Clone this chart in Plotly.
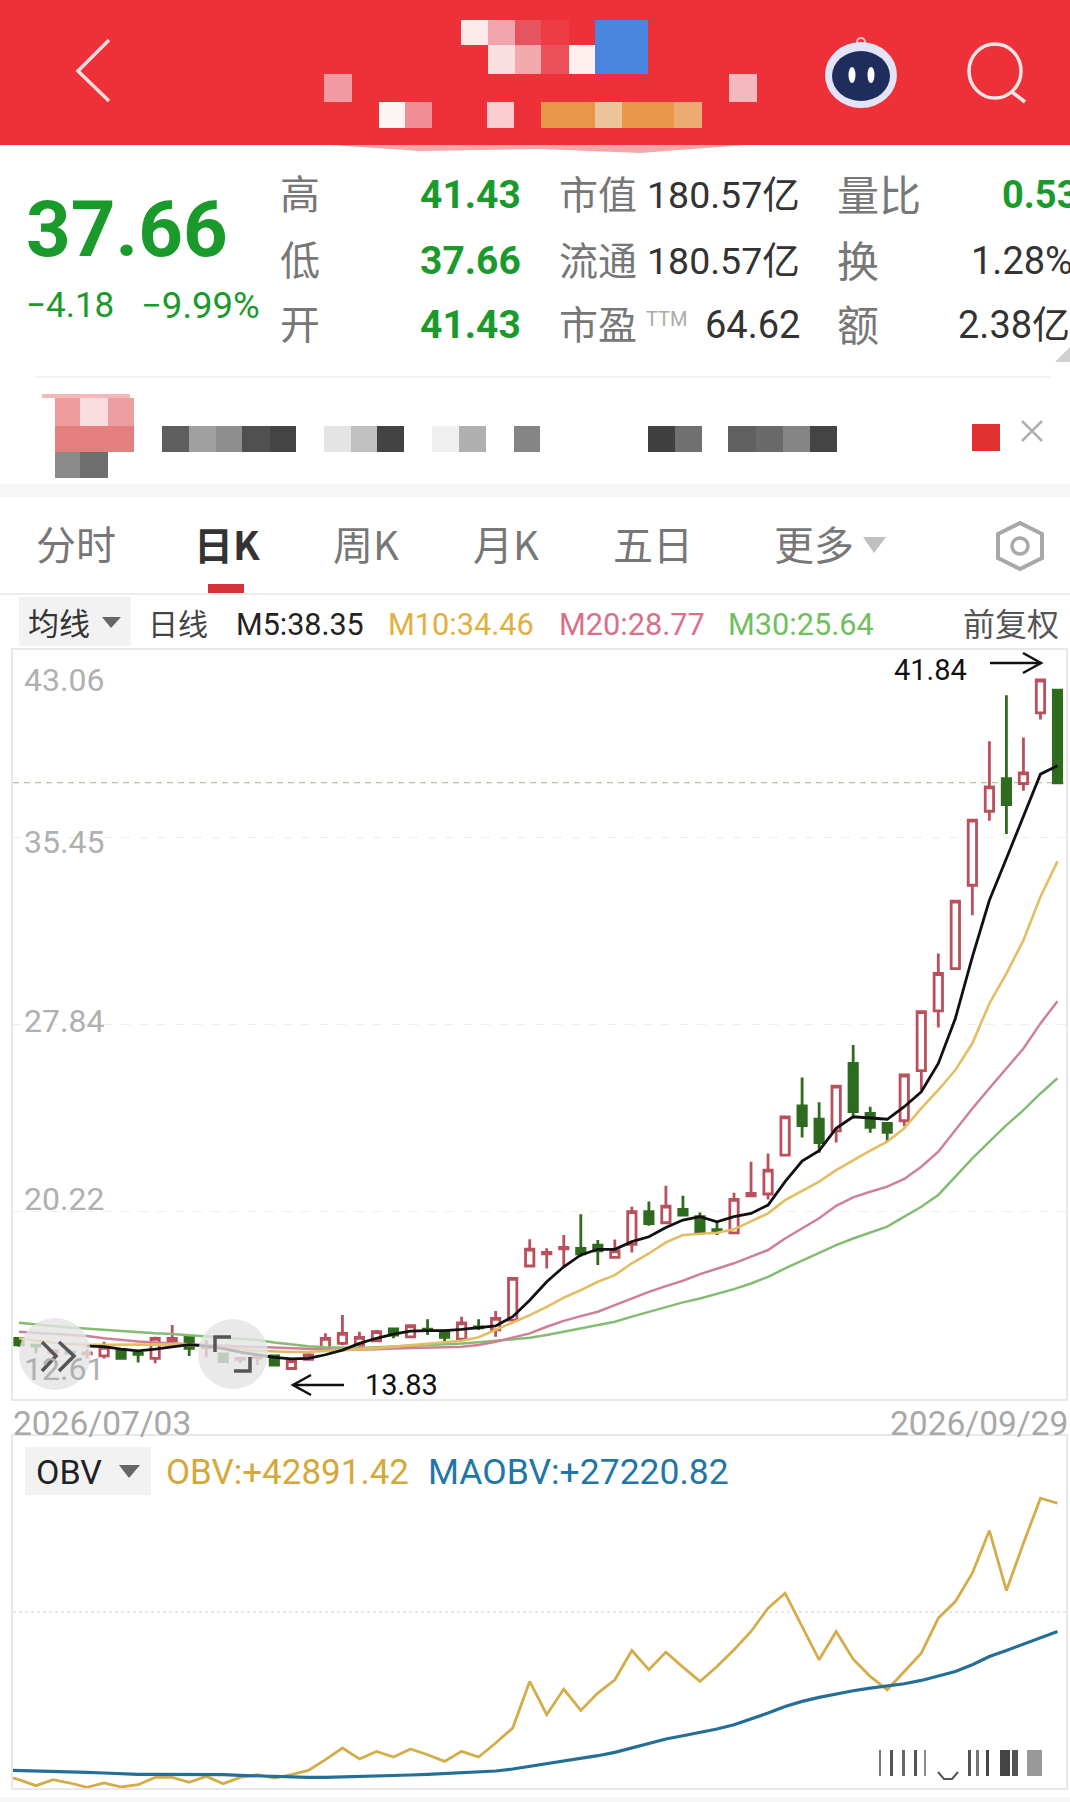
import plotly.graph_objects as go

W, H = 1070, 1802

# Daily candles
opens = [15.06, 14.78, 14.48, 14.50, 14.43, 14.34, 14.61, 14.45, 14.24, 14.96, 15.10, 14.68, 14.42, 14.20, 14.26, 14.34,
         13.83, 14.20, 14.58, 14.85, 14.78, 14.96, 15.44, 15.12, 15.43, 15.35, 15.02, 15.52, 15.40, 15.80, 18.00, 18.49,
         18.70, 18.72, 18.85, 18.35, 18.88, 20.21, 19.76, 20.30, 20.01, 19.48, 19.35, 20.85, 20.93, 22.51, 24.51, 23.97,
         23.50, 26.24, 24.21, 23.80, 23.91, 25.95, 28.38, 30.10, 33.49, 36.50, 37.83, 37.63, 40.50, 41.43]
highs = [15.10, 14.80, 14.62, 14.60, 14.61, 14.92, 14.63, 14.47, 15.12, 15.60, 15.15, 14.99, 14.45, 14.30, 14.38, 14.36,
         14.15, 14.45, 15.26, 16.01, 15.33, 15.40, 15.46, 15.60, 15.83, 15.38, 15.94, 15.83, 16.17, 17.50, 19.09, 18.72,
         19.26, 20.11, 19.06, 19.08, 20.41, 20.62, 21.27, 20.86, 20.18, 19.80, 20.98, 22.24, 22.58, 24.07, 25.67, 24.66,
         25.32, 26.99, 24.48, 23.85, 25.77, 28.35, 30.71, 32.84, 36.14, 39.35, 41.22, 39.50, 41.84, 41.43]
lows = [14.72, 14.45, 14.40, 14.42, 14.24, 14.24, 14.24, 14.07, 14.04, 14.96, 14.34, 14.28, 14.07, 14.05, 13.97, 13.93,
        13.83, 14.15, 14.50, 14.78, 14.72, 14.90, 15.06, 15.10, 15.19, 14.88, 14.95, 15.40, 15.12, 15.80, 18.00, 17.90,
        17.97, 18.38, 18.04, 18.30, 18.55, 19.64, 19.76, 20.01, 19.37, 19.26, 19.35, 20.85, 20.71, 22.51, 23.23, 22.61,
        23.02, 24.01, 23.42, 23.06, 23.69, 25.16, 27.70, 30.10, 32.27, 36.11, 35.57, 37.33, 40.23, 37.66]
closes = [14.79, 14.74, 14.56, 14.46, 14.47, 14.69, 14.24, 14.41, 15.06, 15.06, 14.65, 14.72, 14.11, 14.24, 14.30, 13.97,
          14.15, 14.38, 15.06, 15.26, 15.10, 15.33, 15.19, 15.57, 15.39, 15.10, 15.69, 15.48, 15.87, 17.50, 18.69, 18.55,
          18.76, 18.49, 18.62, 18.62, 20.21, 19.73, 20.44, 20.07, 19.37, 19.44, 20.71, 20.95, 21.90, 24.07, 23.71, 23.02,
          25.32, 24.28, 23.64, 23.44, 25.77, 28.35, 29.90, 32.84, 36.14, 37.49, 36.77, 38.06, 41.84, 37.66]

# Moving averages. M5 only starts on the fifth candle
m5 = [None, None, None, None, 14.74, 14.72, 14.62, 14.55, 14.62, 14.72, 14.80, 14.74, 14.64, 14.50, 14.39, 14.28,
      14.22, 14.24, 14.39, 14.58, 14.85, 15.06, 15.23, 15.35, 15.37, 15.37, 15.42, 15.48, 15.56, 15.94, 16.61, 17.36,
      17.97, 18.45, 18.68, 18.68, 18.99, 19.19, 19.57, 19.87, 20.01, 19.80, 20.01, 20.14, 20.48, 21.43, 22.27, 22.69,
      23.60, 24.07, 24.03, 23.97, 24.48, 25.09, 26.24, 28.07, 30.58, 32.88, 34.58, 36.27, 38.01, 38.35]
m10 = [15.06, 14.96, 14.88, 14.83, 14.79, 14.79, 14.80, 14.79, 14.79, 14.81, 14.79, 14.74, 14.69, 14.62, 14.55, 14.51,
       14.50, 14.50, 14.53, 14.58, 14.62, 14.66, 14.72, 14.76, 14.81, 14.88, 14.96, 15.10, 15.40, 15.73, 16.00, 16.34,
       16.71, 17.02, 17.36, 17.63, 18.11, 18.51, 18.96, 19.26, 19.30, 19.35, 19.49, 19.80, 20.14, 20.68, 21.05, 21.43,
       21.90, 22.31, 22.69, 23.06, 23.60, 24.41, 25.16, 25.97, 27.06, 28.68, 29.90, 31.25, 33.02, 34.46]
m20 = [15.33, 15.29, 15.25, 15.21, 15.15, 15.06, 14.99, 14.93, 14.89, 14.85, 14.81, 14.79, 14.76, 14.73, 14.70, 14.68,
       14.65, 14.62, 14.60, 14.58, 14.58, 14.61, 14.64, 14.65, 14.66, 14.69, 14.72, 14.79, 14.92, 15.10, 15.26, 15.53,
       15.77, 15.96, 16.14, 16.41, 16.68, 16.95, 17.18, 17.40, 17.67, 17.89, 18.11, 18.38, 18.65, 19.12, 19.53, 19.94,
       20.45, 20.79, 21.02, 21.23, 21.54, 22.04, 22.65, 23.53, 24.41, 25.23, 26.04, 26.85, 27.87, 28.77]
m30 = [15.69, 15.61, 15.56, 15.50, 15.45, 15.40, 15.34, 15.29, 15.26, 15.23, 15.18, 15.12, 15.08, 15.04, 14.99, 14.89,
       14.81, 14.74, 14.70, 14.68, 14.66, 14.69, 14.72, 14.74, 14.77, 14.81, 14.85, 14.90, 14.96, 15.02, 15.08, 15.19,
       15.33, 15.46, 15.60, 15.73, 15.94, 16.14, 16.34, 16.52, 16.68, 16.86, 17.06, 17.29, 17.56, 17.90, 18.22, 18.51,
       18.85, 19.12, 19.37, 19.60, 20.01, 20.41, 20.89, 21.63, 22.38, 23.06, 23.73, 24.34, 25.02, 25.64]

# OBV panel starts one day before the visible window, it gets clipped by the axis
obv = [9638, 9109, 8376, 9109, 8702, 8173, 8702, 8214, 8498, 9394, 9394, 8783, 9516, 8621, 9394, 9719, 9312, 9719,
       10249, 11551, 12975, 11632, 12568, 11877, 12853, 12161, 11347, 12568, 11877, 13586, 15417, 21115, 17045, 20179,
       17575, 19691, 21319, 24901, 22540, 24697, 22866, 21115, 22947, 24982, 27221, 30069, 31901, 27831, 23761, 27221,
       23842, 21726, 20098, 22336, 24575, 28848, 30883, 34343, 39553, 32227, 38006, 43500, 42891]
maobv = [10289, 10249, 10208, 10167, 10045, 10005, 9923, 9801, 9760, 9760, 9760, 9760, 9760, 9719, 9638, 9557, 9475,
         9394, 9394, 9394, 9435, 9475, 9516, 9597, 9679, 9760, 9842, 9923, 10005, 10167, 10411, 10737, 11063, 11347,
         11714, 12039, 12446, 12975, 13586, 14074, 14481, 14888, 15295, 15825, 16516, 17249, 18063, 18673, 19162, 19609,
         19976, 20301, 20586, 20831, 21238, 21808, 22336, 23150, 24168, 24901, 25674, 26407, 27221]

price_ticks = [43.06, 35.45, 27.84, 20.22, 12.61]
last_price = 37.66
dates = ["2026/07/03", "2026/09/29"]

x = list(range(len(closes)))
x_obv = list(range(-1, len(closes)))

CJK = "Noto Sans CJK SC, Roboto"
NUM = "Roboto, Noto Sans CJK SC"
GREEN = "#1b9a2c"
RED_C = "#b9505c"
DARK_G = "#2f6b1f"


def fx(v):
    return v / W


def fy(v):
    return 1 - v / H


shapes = []
annos = []


def rect(x0, y0, x1, y1, color, **kw):
    shapes.append(dict(type="rect", xref="paper", yref="paper", x0=fx(x0), x1=fx(x1), y0=fy(y0), y1=fy(y1),
                       fillcolor=color, line=dict(width=0), **kw))


def path(points, color, width=3, fill=None, close=False):
    d = "M " + " L ".join(f"{fx(a):.5f},{fy(b):.5f}" for a, b in points) + (" Z" if close else "")
    shapes.append(dict(type="path", xref="paper", yref="paper", path=d, fillcolor=fill,
                       line=dict(color=color, width=width)))


def circle(cx, cy, rx, ry, fill=None, line=None, width=0, opacity=None):
    s = dict(type="circle", xref="paper", yref="paper", x0=fx(cx - rx), x1=fx(cx + rx), y0=fy(cy + ry), y1=fy(cy - ry),
             fillcolor=fill, line=dict(color=line, width=width))
    if opacity is not None:
        s["opacity"] = opacity
    shapes.append(s)


def label(px, py, text, size, color, anchor="left", family=NUM, bold=False):
    if bold:
        text = f"<b>{text}</b>"
    # CJK glyphs sit lower in the line box than the digits
    if family == CJK:
        py -= 3
    annos.append(dict(xref="paper", yref="paper", x=fx(px), y=fy(py), text=text, showarrow=False, xanchor=anchor,
                      yanchor="middle", font=dict(family=family, size=size, color=color), borderpad=0))


# mosaic helper, one row of blurred cells
def cells(y0, y1, row):
    for x0, x1, c in row:
        rect(x0, y0, x1, y1, c)


# header
rect(0, 0, W, 145, "#ee3038")
path([(330, 145), (420, 151), (540, 149), (640, 153), (745, 145)], "#f7a5a8", 0, "#f7a5a8", True)
cells(20, 45, [(461, 488, "#fde8ea"), (488, 515, "#f2a5ab"), (515, 541, "#e6555f"), (541, 569, "#ee3c45")])
cells(45, 74, [(488, 515, "#fbdfe0"), (515, 541, "#f2a9ad"), (541, 569, "#ec5058"), (569, 595, "#fdf0ee")])
rect(595, 20, 648, 74, "#4a86e0")
cells(74, 102, [(324, 352, "#f29aa2"), (729, 757, "#f7b9c0")])
cells(102, 128, [(379, 405, "#fdf4f4"), (405, 432, "#f08c94"), (487, 514, "#f9ccd0"), (541, 595, "#e8964a"),
                 (595, 622, "#eec49a"), (622, 674, "#e9974a"), (674, 702, "#ecab72")])
path([(109, 40), (78, 71), (109, 101)], "#f8dcdc", 3.5)
# robot icon
circle(861, 42, 4, 4, None, "#f3c4cc", 2)
circle(861, 75, 36, 33, "#e4e4f8")
circle(861, 76, 29, 25, "#1f2d5c")
circle(852, 75, 3.5, 8, "white")
circle(871, 75, 3.5, 8, "white")
# search icon
circle(995, 71, 26, 27, None, "#f8e6e6", 3.5)
path([(1012, 92), (1025, 102)], "#f8e6e6", 3.5)

# quote block
label(25, 229, "37.66", 78, GREEN, bold=True)
label(25, 306, "−4.18", 35, GREEN)
label(140, 306, "−9.99%", 36.5, GREEN)
rows = [195, 261, 325]
for py, a, b in zip(rows, ["高", "低", "开"], ["41.43", "37.66", "41.43"]):
    label(279, py, a, 40, "#777777", family=CJK)
    annos.append(dict(xref="paper", yref="paper", x=fx(523), y=fy(py), text=f"<b>{b}</b>", showarrow=False,
                      xanchor="right", yanchor="middle", font=dict(family=NUM, size=39, color=GREEN)))
label(558, 195, "市值", 39, "#777777", family=CJK)
label(558, 261, "流通", 39, "#777777", family=CJK)
label(558, 325, "市盈", 39, "#777777", family=CJK)
label(645, 319, "TTM", 20, "#aaaaaa")
label(801, 195, "180.57亿", 37.5, "#333333", "right")
label(801, 261, "180.57亿", 37.5, "#333333", "right")
label(801, 325, "64.62", 38, "#333333", "right")
label(836, 195, "量比", 42, "#777777", family=CJK)
label(836, 261, "换", 42, "#777777", family=CJK)
label(836, 325, "额", 42, "#777777", family=CJK)
label(1001, 195, "<b>0.53</b>", 38, GREEN)
label(970, 261, "1.28%", 38, "#333333")
label(957, 325, "2.38亿", 38, "#333333")
path([(1070, 347), (1070, 362), (1055, 362)], "#d0d0d0", 0, "#d0d0d0", True)
rect(35, 376, 1050, 378, "#f2f2f2")

# blurred news row
rect(42, 394, 130, 398, "#f4b8b8")
cells(398, 426, [(55, 80, "#ef9a9c"), (80, 108, "#f8dcde"), (108, 134, "#ee9da0")])
rect(55, 426, 134, 452, "#e47f80")
cells(452, 478, [(55, 80, "#8a8a8a"), (80, 108, "#6e6e6e")])
cells(426, 452, [(162, 189, "#5e5e5e"), (189, 216, "#a0a0a0"), (216, 242, "#8e8e8e"), (242, 270, "#505050"),
                 (270, 296, "#444444"), (324, 351, "#e4e4e4"), (351, 377, "#c0c0c0"), (377, 404, "#424242"),
                 (432, 459, "#f0f0f0"), (459, 486, "#b0b0b0"), (514, 540, "#858585"), (648, 675, "#404040"),
                 (675, 702, "#707070"), (728, 756, "#606060"), (756, 783, "#6a6a6a"), (783, 810, "#858585"),
                 (810, 837, "#444444")])
rect(972, 424, 1000, 451, "#e03030")
path([(1022, 421), (1042, 441)], "#b0b0b0", 2.5)
path([(1042, 421), (1022, 441)], "#b0b0b0", 2.5)
rect(0, 484, W, 497, "#f6f6f6")

# tabs
for px, t in [(35, "分时"), (332, "周K"), (472, "月K"), (612, "五日"), (773, "更多")]:
    label(px, 546, t, 40, "#777777", family=CJK)
label(193, 546, "<b>日K</b>", 39, "#333333", family=CJK)
path([(863, 537), (886, 537), (874, 553)], "#c0c0c0", 0, "#c0c0c0", True)
path([(1020, 523), (1042, 534), (1042, 558), (1020, 569), (998, 558), (998, 534)], "#a8a8a8", 4, None, True)
circle(1020, 546, 8, 8, None, "#a8a8a8", 3.5)
rect(208, 584, 244, 593, "#d5333a")
rect(0, 593, W, 595, "#ececec")

# MA legend row
rect(19, 597, 131, 646, "#f2f2f2")
label(27, 624, "均线", 31, "#333333", family=CJK)
path([(102, 617), (121, 617), (111, 628)], "#666666", 0, "#666666", True)
label(147, 625, "日线", 30, "#444444", family=CJK)
label(235, 624, f"M5:{m5[-1]:.2f}", 30.5, "#222222")
label(387, 624, f"M10:{m10[-1]:.2f}", 30.7, "#e0b040")
label(558, 624, f"M20:{m20[-1]:.2f}", 30.7, "#d9708a")
label(727, 624, f"M30:{m30[-1]:.2f}", 30.7, "#6fc060")
label(962, 625, "前复权", 32, "#555555", family=CJK)

# date labels under the main panel
label(12, 1423, dates[0], 33.5, "#a8a8a8")
label(1069, 1423, dates[1], 33.5, "#a8a8a8", "right")

# OBV legend
rect(25, 1447, 151, 1495, "#f2f2f2")
label(35, 1472, "OBV", 34, "#222222")
path([(119, 1465), (140, 1465), (129, 1478)], "#666666", 0, "#666666", True)
label(165, 1472, f"OBV:+{obv[-1]}.42", 35, "#d4a93a")
label(427, 1472, f"MAOBV:+{maobv[-1] - 1}.82", 35.5, "#1f77a8")

# floating buttons over the left end of the candles
circle(55, 1354, 36, 36, "#e4e4e4", opacity=0.8)
circle(233, 1354, 35, 35, "#e4e4e4", opacity=0.8)
path([(42, 1342), (56, 1356), (42, 1371)], "#555555", 3.5)
path([(59, 1342), (74, 1356), (59, 1371)], "#555555", 3.5)
path([(215, 1352), (215, 1337), (231, 1337)], "#555555", 3.5)
path([(234, 1371), (250, 1371), (250, 1357)], "#555555", 3.5)

# hi / lo arrows
label(893, 670, f"{max(highs):.2f}", 29, "#111111")
path([(990, 663), (1041, 663)], "#111111", 2.5)
path([(1023, 653), (1041, 663), (1023, 673)], "#111111", 2.5)
label(364, 1385, f"{min(lows):.2f}", 29, "#111111")
path([(293, 1385), (344, 1385)], "#111111", 2.5)
path([(311, 1375), (293, 1385), (311, 1395)], "#111111", 2.5)

# watermark scribble, bottom right
for px, w, c in [(879, 2, "#777777"), (890, 3, "#555555"), (902, 3, "#666666"), (914, 3, "#555555"), (924, 2, "#888888"),
                 (968, 3, "#555555"), (976, 3, "#777777"), (986, 3, "#444444"), (1000, 10, "#444444"),
                 (1012, 6, "#555555"), (1027, 15, "#999999")]:
    rect(px, 1750, px + w, 1776, c)
path([(938, 1772), (944, 1779), (952, 1779), (958, 1772)], "#555555", 2)
rect(0, 1797, W, H, "#f6f6f6")

# price tick labels sit a bit off their grid lines
for tick, shift in zip(price_ticks, [-30, -5, 3, 12, 30]):
    annos.append(dict(xref="x", yref="y", x=-0.35, y=tick, yshift=shift, text=f"{tick:.2f}", showarrow=False,
                      xanchor="left", xshift=9, yanchor="middle", font=dict(family=NUM, size=32, color="#b0b0b0")))

fig = go.Figure()

fig.add_trace(go.Candlestick(
    x=x, open=opens, high=highs, low=lows, close=closes,
    increasing=dict(line=dict(color=RED_C, width=2.8), fillcolor="white"),
    decreasing=dict(line=dict(color=DARK_G, width=2.8), fillcolor=DARK_G),
    whiskerwidth=0,
))
for name, vals, color, width in [("M30", m30, "#84bc74", 2.5), ("M20", m20, "#cf8096", 2.5),
                                 ("M10", m10, "#e3bd62", 2.6), ("M5", m5, "#111111", 2.8)]:
    fig.add_trace(go.Scatter(x=x, y=vals, name=name, mode="lines", line=dict(color=color, width=width)))

fig.add_trace(go.Scatter(x=x_obv, y=obv, name="OBV", mode="lines", xaxis="x2", yaxis="y2",
                         line=dict(color="#d4ad4a", width=2.8)))
fig.add_trace(go.Scatter(x=x_obv, y=maobv, name="MAOBV", mode="lines", xaxis="x2", yaxis="y2",
                         line=dict(color="#246f98", width=3.2)))

shapes.append(dict(type="line", xref="x", yref="y", x0=-0.35, x1=61.5, y0=last_price, y1=last_price, layer="below",
                   line=dict(color="#b9ad86", width=1.2, dash="6px,5px")))

fig.update_layout(
    width=W, height=H,
    margin=dict(l=0, r=0, t=0, b=0),
    paper_bgcolor="white", plot_bgcolor="white",
    showlegend=False,
    shapes=shapes, annotations=annos,
    xaxis=dict(domain=[fx(13), fx(1066)], range=[-0.35, 61.5], showticklabels=False, showgrid=False, zeroline=False,
               rangeslider=dict(visible=False), showline=True, mirror=True, linecolor="#e8e8e8", linewidth=1.5),
    yaxis=dict(domain=[fy(1398.5), fy(650)], range=[12.61, 43.06], tickvals=price_ticks[1:4], showticklabels=False,
               gridcolor="#eeeeee", griddash="dash", gridwidth=1, zeroline=False, ticks="",
               showline=True, mirror=True, linecolor="#e8e8e8", linewidth=1.5),
    xaxis2=dict(domain=[fx(13), fx(1066)], range=[-0.35, 61.5], anchor="y2", showticklabels=False, showgrid=False,
                zeroline=False, showline=True, mirror=True, linecolor="#e8e8e8", linewidth=1.5),
    yaxis2=dict(domain=[fy(1788), fy(1436)], range=[8092, 51111], anchor="x2", tickvals=[29601], showticklabels=False,
                gridcolor="#e8e8e8", griddash="dot", gridwidth=1.5, zeroline=False, ticks="",
                showline=True, mirror=True, linecolor="#e8e8e8", linewidth=1.5),
)

fig.write_html("out.html", config=dict(displayModeBar=False),
               post_script="document.body.style.margin='0';document.body.style.overflow='hidden';")
